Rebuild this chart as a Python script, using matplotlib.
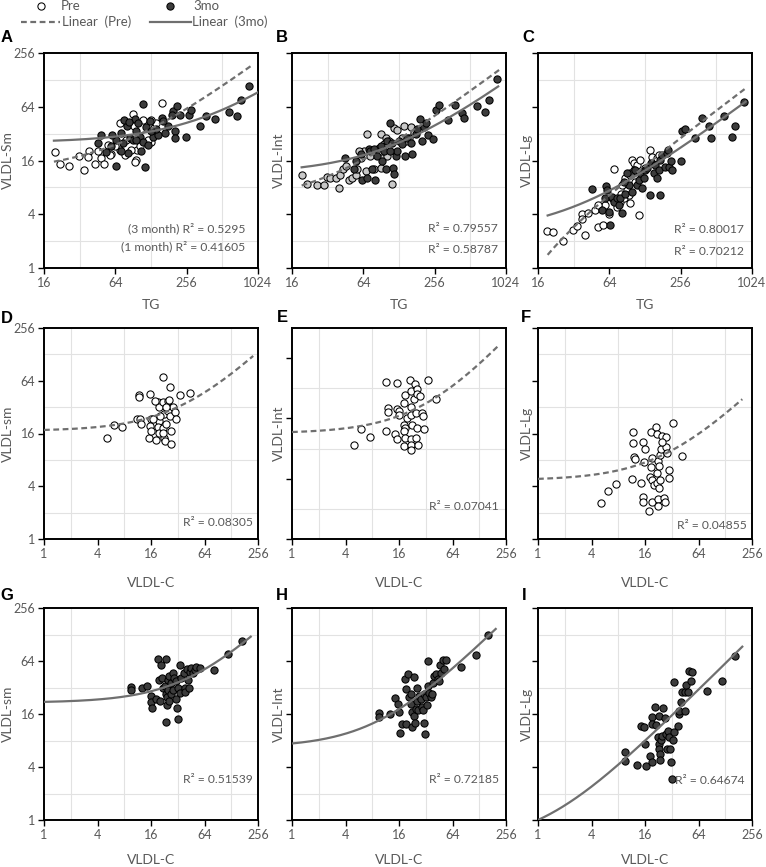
import numpy as np
import matplotlib
matplotlib.use('Agg')
import matplotlib.pyplot as plt
from matplotlib.lines import Line2D
from matplotlib.ticker import NullFormatter

# ---------------- data ----------------
A_pre_x = [19.7, 21.9, 26.2, 31.8, 34.8, 38.6, 37.8, 43, 45.9, 48.9, 51, 55.7, 58.5, 70, 90.5, 92, 95, 98, 129, 160,
           137, 142, 93.6, 79, 87, 103, 121, 129, 110, 70, 63.6, 57.7, 77]
A_pre_y = [19.7, 14.6, 14, 18, 12.5, 20.7, 17.7, 14.7, 20.7, 17, 14.7, 24, 19, 42.5, 53.5, 38.6, 16.3, 21, 26, 70,
           37, 42, 15.5, 27, 21, 23, 27, 45.6, 45.6, 21, 23, 18.5, 18.5]
A_3mo_x = [110, 48, 46, 53.8, 59, 64.5, 72, 80.5, 82, 85, 93.6, 96.5, 103, 106, 110, 114, 117, 125, 121, 133,
           147, 157, 168, 179, 197, 194, 204, 204, 213, 251, 269, 281, 334, 375, 443, 583, 680, 740, 868, 74.5,
           65.4, 72, 90.5, 100, 75.6, 84, 60.5, 142, 224, 96.5, 129, 162]
A_3mo_y = [68.6, 31, 25, 19.7, 23, 13.9, 32.9, 39, 19.3, 28.4, 46.5, 33.9, 29.7, 20.2, 26, 13.5, 37.8, 44, 24, 29.7,
           31, 48, 32.5, 38.6, 57, 52, 34, 28.4, 65.7, 29, 52, 59, 38.6, 50, 46.5, 55.3, 51, 76.6, 108, 25,
           27, 20.2, 27, 42, 45.6, 43.7, 30.5, 36.3, 52, 27, 34, 44]

B_pre_x = [19.4, 21.4, 26, 30, 31.3, 33.8, 37.3, 39.7, 41, 43.1, 45.3, 48.3, 51.6, 55, 56.9, 60.6, 64.6, 69, 78.8,
           89.5, 92.4, 89.5, 95.7, 98.6, 102, 105, 112, 116, 124, 136, 141, 146, 155, 161, 171, 73.5, 66.8, 58.5]
B_pre_y = [10.9, 8.7, 8.4, 8.4, 10.4, 10.2, 10.2, 7.8, 11.1, 12.7, 13.8, 9.8, 10.2, 11.1, 12.7, 17.1, 20.4, 32, 12.7,
           13.2, 17.1, 31.4, 24.3, 28.8, 17.9, 26.5, 8.7, 36.8, 35, 28.8, 39, 26.5, 28.8, 37.5, 32.9, 17.9, 12.1, 20.4]
B_3mo_x = [44.7, 53.1, 55, 60.6, 62.7, 69, 71.5, 73.5, 76.1, 81, 83.8, 86.8, 89.5, 95.7, 98.6, 102, 108, 112, 114,
           116, 120, 128, 136, 143, 150, 161, 166, 177, 182, 193, 202, 208, 215, 223, 249, 261, 278, 333, 377, 439,
           455, 580, 685, 734, 868, 124, 108, 92.4, 79.5]
B_3mo_y = [17.1, 12.7, 15.7, 18.7, 9.8, 10.2, 21.3, 20.4, 12.7, 9.8, 17.9, 22.3, 23.3, 20.4, 12.7, 26.5, 41.6, 25.3,
           13.2, 11.3, 17.9, 26.5, 24.3, 17.9, 28.8, 25.3, 18.7, 32, 36.5, 46.2, 26.5, 37.5, 41.6, 30.7, 28, 58.9,
           66.9, 45.3, 66.9, 53.8, 48.3, 65.5, 56.1, 76.1, 130.6, 20.4, 20.4, 15.7, 21.8]

C_pre_x = [19.2, 21.4, 26.2, 31.7, 33.9, 37.3, 37.8, 40, 42.6, 48.5, 50.9, 55.3, 56.9, 58.9, 63.1, 69.5, 71.5, 74,
           78.8, 84.4, 89.9, 93, 96.3, 99, 102.5, 106, 110, 113, 117, 129, 142, 147, 162, 168, 87.4, 81.6, 67.2,
           51.6, 96.3, 102.5, 80.4]
C_pre_y = [2.6, 2.53, 2.03, 2.64, 2.93, 4.06, 3.58, 2.36, 4.17, 4.44, 2.87, 4.63, 3.01, 5.06, 4.06, 12.7, 5.74, 4.83,
           5.5, 6.02, 7.46, 6.54, 5.28, 16.3, 14.9, 9.3, 14.3, 3.89, 16.3, 13.1, 21.1, 17.7, 17, 18.5, 10.1, 8.5,
           6.02, 5.06, 11.0, 12.5, 6.8]
C_3mo_x = [45.9, 59.7, 61, 65, 55.3, 58.9, 64, 67.2, 69.5, 74, 76.6, 78.8, 81.6, 87.4, 93, 96.3, 99, 106, 110, 113,
           117, 121, 124.5, 129, 133, 142, 145, 152, 156.5, 162, 168, 170, 172.5, 178.5, 190, 197, 201, 203.6,
           210.8, 216.7, 256, 265, 276, 338, 385, 445, 459, 597, 694, 740, 885, 89.9, 84.4]
C_3mo_y = [7.66, 8.34, 7.46, 3.01, 4.44, 6.02, 4.25, 6.27, 5.5, 6.02, 5.06, 6.02, 4.17, 6.8, 8.5, 11.5, 7.16, 12.5,
           8.5, 9.65, 11.5, 7.78, 10.1, 12.5, 13.1, 6.54, 14.9, 11.5, 14.3, 10.1, 12.5, 16.3, 6.54, 18.5, 13.7,
           19.4, 21.1, 13.7, 15.6, 12.5, 15.6, 34.6, 36.5, 28.6, 48.3, 38.8, 28.6, 50.2, 29.4, 38.8, 73, 11.5, 9.3]

D_pre_x = [5.06, 6.15, 7.57, 11.8, 11.8, 11.2, 12, 12.5, 15.2, 15.5, 16.2, 15.5, 15.8, 18.4, 19.3, 19.7, 19.7, 19.3,
           19.7, 21.9, 21.9, 22.3, 21.9, 22.3, 22.8, 23.9, 24.9, 25.6, 26, 24.9, 26.5, 27.1, 26.7, 28.4, 29.6, 30.9,
           34.3, 43.7, 17.6, 20.1, 16.9, 23.9, 21.6]
D_pre_y = [14.2, 20.1, 19, 44.3, 41.3, 23.3, 23.3, 20.8, 14.4, 45, 23.3, 19.6, 17.1, 13.5, 36.2, 31.7, 22.3, 19, 16.4,
           70, 36.2, 26.5, 18.7, 14.4, 13.2, 20.4, 37.8, 38.5, 53.8, 29, 25.5, 17.1, 12.1, 31.7, 27.9, 23.3, 44,
           45.9, 37.8, 25.5, 23.3, 31.7, 16.4]

E_pre_x = [5.0, 6.0, 7.46, 11.3, 11.5, 12, 12.1, 14.6, 15, 15, 15.3, 16, 16, 18.2, 18.5, 18.2, 18.5, 18.2, 18.5, 18.2,
           19.9, 21.3, 21.7, 22.1, 22.1, 22.7, 22.1, 22.1, 21.7, 23.6, 24.1, 24.7, 25.2, 24.7, 25.8, 25.8, 26.5,
           27.7, 28.7, 30, 30.3, 33.6, 42.2]
E_pre_y = [8.76, 12.5, 10.4, 11.9, 37.1, 20.5, 18.6, 11.3, 10, 20, 35.8, 18.9, 17.5, 22.6, 27.3, 13.9, 12.9, 12, 10.3,
           8.5, 16.3, 38.3, 30, 20.9, 17.5, 13.6, 9.9, 8.6, 7.7, 24.8, 35, 10.3, 31.6, 18, 28.2, 12.9, 8.6, 27.1,
           18.3, 16.9, 12.5, 39.1, 24.8]

F_pre_x = [5.07, 6.1, 7.5, 11.4, 11.6, 11.7, 12, 12.2, 14.5, 15, 15, 15.2, 15.4, 16.1, 17.9, 18.4, 18.9, 19.2, 18.9,
           19.2, 19.2, 20, 21.3, 21.8, 21.8, 21.8, 22.4, 22.2, 22.4, 22.8, 23.2, 23.8, 23.8, 24.5, 24.9, 26, 26.6,
           27.6, 27.6, 28.3, 30.1, 30.1, 33.1, 41.9, 24.9]
F_pre_y = [2.55, 3.56, 4.23, 4.9, 16.5, 12.5, 8.63, 8.1, 4.41, 2.99, 2.67, 12.7, 7.57, 10.7, 2.11, 5.13, 16.5, 8.3,
           6.6, 4.7, 2.67, 4.12, 18.9, 15.8, 5.7, 4.38, 7.8, 2.83, 2.38, 6.9, 3.87, 4.7, 9, 10.7, 15.1, 2.91, 2.67,
           11.2, 14.7, 9.6, 6.1, 5.03, 21.3, 8.8, 12.7]

G_3mo_x = [9.5, 9.5, 12.8, 14.6, 15.8, 16.2, 16.6, 18.4, 19.4, 19.7, 20.1, 21, 21.4, 21.9, 22.8, 23.3, 23.4, 23.9,
           24.3, 24.4, 24.9, 24.9, 25.6, 25.6, 26.7, 27.1, 28.4, 28.4, 28.8, 30.9, 31.5, 32.3, 32.3, 33.7, 34.3,
           35.2, 37.4, 38.4, 39.1, 40.7, 41.9, 42.8, 43.7, 45.6, 47.6, 49.7, 51.9, 56.5, 82, 119, 169, 30.9]
G_3mo_y = [32.6, 29.9, 31.7, 33.7, 25.5, 21.8, 18.8, 23.4, 66.6, 39.4, 22.5, 56.9, 41.1, 31.7, 33.7, 26.7, 12.9, 68.1,
           25.1, 20, 30.3, 39.4, 43.1, 22.5, 36.2, 26.7, 46.9, 30.3, 41.1, 37.8, 18.8, 14.1, 31.7, 58.3, 27.9, 41.1,
           46.2, 31.7, 28.3, 52.1, 38.8, 31.7, 47.8, 53.5, 46.9, 51.2, 54.9, 53.5, 51.2, 77.2, 109, 23.4]

H_3mo_x = [9.5, 9.5, 12.6, 14.3, 15.6, 16, 16.3, 17.5, 18.7, 19, 19, 20.4, 20.8, 21.7, 22.1, 22.6, 22.6, 23.3, 23.7,
           24.1, 24.8, 25.4, 25.8, 26.5, 27, 28.2, 28.7, 29.5, 30.2, 30.8, 31.3, 32, 32.9, 33.6, 34, 35, 36.6, 37.6,
           38.2, 39.3, 41.7, 43.6, 45.5, 46.8, 47.6, 49.7, 51.9, 54.2, 78.8, 119, 161]
H_3mo_y = [16.3, 14.9, 16, 24, 20.8, 17, 9.8, 12.4, 39.7, 30.7, 12.4, 45.3, 24.8, 20.8, 26.9, 16.7, 11.5, 41.6, 15.3,
           12.7, 18.2, 22.6, 32, 17.9, 25.8, 23.6, 19, 17.9, 26.9, 12.7, 9.5, 24.8, 20.2, 64, 33.4, 28, 24.8, 26.9,
           36.4, 43.3, 45.3, 39.7, 38.1, 57.2, 47.2, 65.2, 52.5, 65.2, 54.9, 74, 126]

I_3mo_x = [9.5, 9.5, 12.9, 14.3, 15.7, 16, 16.3, 18.1, 19.2, 19.2, 19.4, 20.8, 21.3, 22.2, 22.8, 22.8, 23.1, 23.6,
           23.6, 24.3, 24.8, 25.8, 27.1, 27.6, 28.3, 28.8, 30.1, 30.6, 31.4, 32, 32.8, 33.7, 33.7, 37.5, 38.4, 39.1,
           40.9, 41.9, 44.6, 44.6, 46.6, 48.6, 49.9, 52.2, 54.5, 80.8, 119, 165]
I_3mo_y = [5.98, 4.72, 4.26, 11.8, 11.3, 7.3, 4.14, 5.39, 4.53, 14.9, 12.3, 19, 12, 8.7, 15.3, 7.3, 6.4, 5.62, 4.79,
           8.1, 9.1, 18.5, 14.6, 9.5, 6.4, 10.3, 8.7, 6.4, 4.53, 2.92, 8.1, 9.9, 36.7, 11.8, 16, 17.5, 21.7, 28.2,
           17.5, 28.2, 34.5, 28.2, 49.8, 38.3, 47.5, 29, 38.3, 72.5]

# linear trendlines (intercept, slope) and their x-extent
A_fit_pre, A_rng_pre = [11.8, 0.192], [19.4, 930]
A_fit_3mo, A_rng_3mo = [25.4, 0.066], [19.4, 1024]
B_fit_pre, B_rng_pre = [4.94, 0.179], [19.3, 910]
B_fit_3mo, B_rng_3mo = [11.3, 0.11], [19.3, 880]
C_fit_pre, C_rng_pre = [-0.81, 0.1147], [19.3, 905]
C_fit_3mo, C_rng_3mo = [2.37, 0.078], [19.3, 905]
D_fit_pre, D_rng_pre = [17.1, 0.468], [1, 226]
E_fit_pre, E_rng_pre = [11.35, 0.351], [1, 211]
F_fit_pre, F_rng_pre = [4.68, 0.1745], [1, 199]
G_fit_3mo, G_rng_3mo = [21.5, 0.469], [1, 212]
H_fit_3mo, H_rng_3mo = [6.68, 0.721], [1, 196]
I_fit_3mo, I_rng_3mo = [0.535, 0.465], [1, 199]

TG_ticks = [16, 64, 256, 1024]
VC_ticks = [1, 4, 16, 64, 256]
Y_ticks = [1, 4, 16, 64, 256]

# ---------------- figure ----------------
plt.rcParams['font.family'] = ['Lato', 'DejaVu Sans']
W, H = 766, 867
fig = plt.figure(figsize=(W / 100, H / 100), dpi=100)

TXT = '#595959'
LINE_C = '#6f6f6f'
DARK = '#3c3c3c'
GRID = '#e2e2e2'

cols_left = [44, 292, 538]
rows_tb = [(53, 268), (328, 539), (608, 820)]
AXW = 214


def fx(px):
    return px / W


def fy(py):
    return 1 - py / H


def make_ax(col, row):
    l = cols_left[col]
    t, b = rows_tb[row]
    return fig.add_axes([fx(l), fy(b), AXW / W, (b - t) / H])


def style(ax, xlim, xticks, ylim, yticks, ylabels):
    ax.set_xscale('log', base=2)
    ax.set_yscale('log', base=2)
    ax.set_xlim(*xlim)
    ax.set_ylim(*ylim)
    ax.set_xticks(xticks)
    ax.set_xticklabels([str(v) for v in xticks])
    ax.set_yticks(yticks)
    ax.set_yticklabels([str(v) for v in yticks] if ylabels else [])
    xm = [v * 2 for v in xticks[:-1]]
    ym = [v * 2 for v in yticks if v * 2 < ylim[1]]
    ax.set_xticks(xm, minor=True)
    ax.set_yticks(ym, minor=True)
    ax.xaxis.set_minor_formatter(NullFormatter())
    ax.yaxis.set_minor_formatter(NullFormatter())
    ax.tick_params(which='minor', length=0)
    ax.tick_params(which='major', direction='out', length=4, width=1.0, color='black',
                   labelsize=9, labelcolor=TXT, pad=2.5)
    ax.grid(True, which='minor', color=GRID, lw=0.8)
    ax.grid(False, which='major')
    ax.set_axisbelow(True)
    for s in ax.spines.values():
        s.set_linewidth(1.4)
        s.set_color('black')


def trend(ax, fit, rng, dashed):
    xs = np.geomspace(rng[0], rng[1], 300)
    ys = fit[0] + fit[1] * xs
    kw = dict(color=LINE_C, lw=1.6, zorder=5)
    if dashed:
        ax.plot(xs, ys, dashes=(2.6, 1.6), **kw)
    else:
        ax.plot(xs, ys, **kw)


def pts(ax, x, y, face):
    ax.scatter(x, y, s=27, facecolor=face, edgecolor='black', linewidth=0.75, zorder=3)


def r2(ax, txt, xr, y):
    ax.text(xr, y, txt, transform=ax.transAxes, ha='right', va='center', fontsize=8.7, color=TXT, zorder=6)


panels = [
    ('A', 0, 0, (16, 1024), TG_ticks, (1, 256), Y_ticks, 'VLDL-Sm', 'TG',
     [(A_pre_x, A_pre_y, 'white'), (A_3mo_x, A_3mo_y, DARK)],
     [(A_fit_pre, A_rng_pre, True), (A_fit_3mo, A_rng_3mo, False)],
     [('(3 month) R\u00b2 = 0.5295', 0.94, 0.186), ('(1 month) R\u00b2 = 0.41605', 0.94, 0.100)]),
    ('B', 1, 0, (16, 1024), TG_ticks, (1, 256), Y_ticks, 'VLDL-Int', 'TG',
     [(B_pre_x, B_pre_y, '#c8c8c8'), (B_3mo_x, B_3mo_y, DARK)],
     [(B_fit_pre, B_rng_pre, True), (B_fit_3mo, B_rng_3mo, False)],
     [('R\u00b2 = 0.79557', 0.963, 0.186), ('R\u00b2 = 0.58787', 0.963, 0.086)]),
    ('C', 2, 0, (16, 1024), TG_ticks, (1, 256), Y_ticks, 'VLDL-Lg', 'TG',
     [(C_pre_x, C_pre_y, 'white'), (C_3mo_x, C_3mo_y, DARK)],
     [(C_fit_pre, C_rng_pre, True), (C_fit_3mo, C_rng_3mo, False)],
     [('R\u00b2 = 0.80017', 0.963, 0.181), ('R\u00b2 = 0.70212', 0.963, 0.076)]),
    ('D', 0, 1, (1, 256), VC_ticks, (1, 256), Y_ticks, 'VLDL-sm', 'VLDL-C',
     [(D_pre_x, D_pre_y, 'white')], [(D_fit_pre, D_rng_pre, True)],
     [('R\u00b2 = 0.08305', 0.977, 0.08)]),
    ('E', 1, 1, (1, 256), VC_ticks, (1, 128), [1, 4, 16, 64], 'VLDL-Int', 'VLDL-C',
     [(E_pre_x, E_pre_y, 'white')], [(E_fit_pre, E_rng_pre, True)],
     [('R\u00b2 = 0.07041', 0.967, 0.156)]),
    ('F', 2, 1, (1, 256), VC_ticks, (1, 256), Y_ticks, 'VLDL-Lg', 'VLDL-C',
     [(F_pre_x, F_pre_y, 'white')], [(F_fit_pre, F_rng_pre, True)],
     [('R\u00b2 = 0.04855', 0.977, 0.062)]),
    ('G', 0, 2, (1, 256), VC_ticks, (1, 256), Y_ticks, 'VLDL-sm', 'VLDL-C',
     [(G_3mo_x, G_3mo_y, DARK)], [(G_fit_3mo, G_rng_3mo, False)],
     [('R\u00b2 = 0.51539', 0.977, 0.189)]),
    ('H', 1, 2, (1, 256), VC_ticks, (1, 256), Y_ticks, 'VLDL-Int', 'VLDL-C',
     [(H_3mo_x, H_3mo_y, DARK)], [(H_fit_3mo, H_rng_3mo, False)],
     [('R\u00b2 = 0.72185', 0.967, 0.193)]),
    ('I', 2, 2, (1, 256), VC_ticks, (1, 256), Y_ticks, 'VLDL-Lg', 'VLDL-C',
     [(I_3mo_x, I_3mo_y, DARK)], [(I_fit_3mo, I_rng_3mo, False)],
     [('R\u00b2 = 0.64674', 0.963, 0.184)]),
]

letter_pos = {'A': (7, 38), 'B': (282, 38), 'C': (528, 38),
              'D': (7, 318), 'E': (282, 317), 'F': (526, 317),
              'G': (7, 595), 'H': (282, 595), 'I': (524, 596)}
ylab_x = [8, 279, 527]
xlab_y = [305, 583, 860]

for (let, col, row, xlim, xt, ylim, yt, ylab, xlab, series, fits, r2s) in panels:
    ax = make_ax(col, row)
    style(ax, xlim, xt, ylim, yt, col == 0)
    for (x, y, face) in series:
        pts(ax, x, y, face)
    for (fit, rng, dashed) in fits:
        trend(ax, fit, rng, dashed)
    for (t, xr, yy) in r2s:
        r2(ax, t, xr, yy)
    t, b = rows_tb[row]
    l = cols_left[col]
    fig.text(fx(ylab_x[col]), fy((t + b) / 2), ylab, rotation=90, ha='center', va='center',
             fontsize=10, color=TXT)
    fig.text(fx(l + AXW / 2), fy(xlab_y[row]), xlab, ha='center', va='center', fontsize=10, color=TXT)
    lx, ly = letter_pos[let]
    fig.text(fx(lx), fy(ly), let, ha='center', va='center', fontsize=12, fontweight='bold',
             color='black', family=['Liberation Sans', 'DejaVu Sans'])

# ---------------- legend ----------------
tf = fig.transFigure
fig.add_artist(Line2D([fx(41)], [fy(6)], marker='o', ms=5.2, mfc='white', mec='black', mew=0.75,
                      ls='none', transform=tf))
fig.text(fx(61), fy(6), 'Pre', ha='left', va='center', fontsize=9.5, color=TXT)
fig.add_artist(Line2D([fx(170)], [fy(6)], marker='o', ms=5.2, mfc=DARK, mec='black', mew=0.75,
                      ls='none', transform=tf))
fig.text(fx(193), fy(6), '3mo', ha='left', va='center', fontsize=9.5, color=TXT)
fig.add_artist(Line2D([fx(21), fx(60)], [fy(22), fy(22)], color=LINE_C, lw=1.6, dashes=(2.6, 1.6),
                      transform=tf))
fig.text(fx(62), fy(22), 'Linear  (Pre)', ha='left', va='center', fontsize=9.5, color=TXT)
fig.add_artist(Line2D([fx(150), fx(191)], [fy(22), fy(22)], color=LINE_C, lw=1.6, transform=tf))
fig.text(fx(192), fy(22), 'Linear  (3mo)', ha='left', va='center', fontsize=9.5, color=TXT)

fig.savefig('out.png', dpi=100)
